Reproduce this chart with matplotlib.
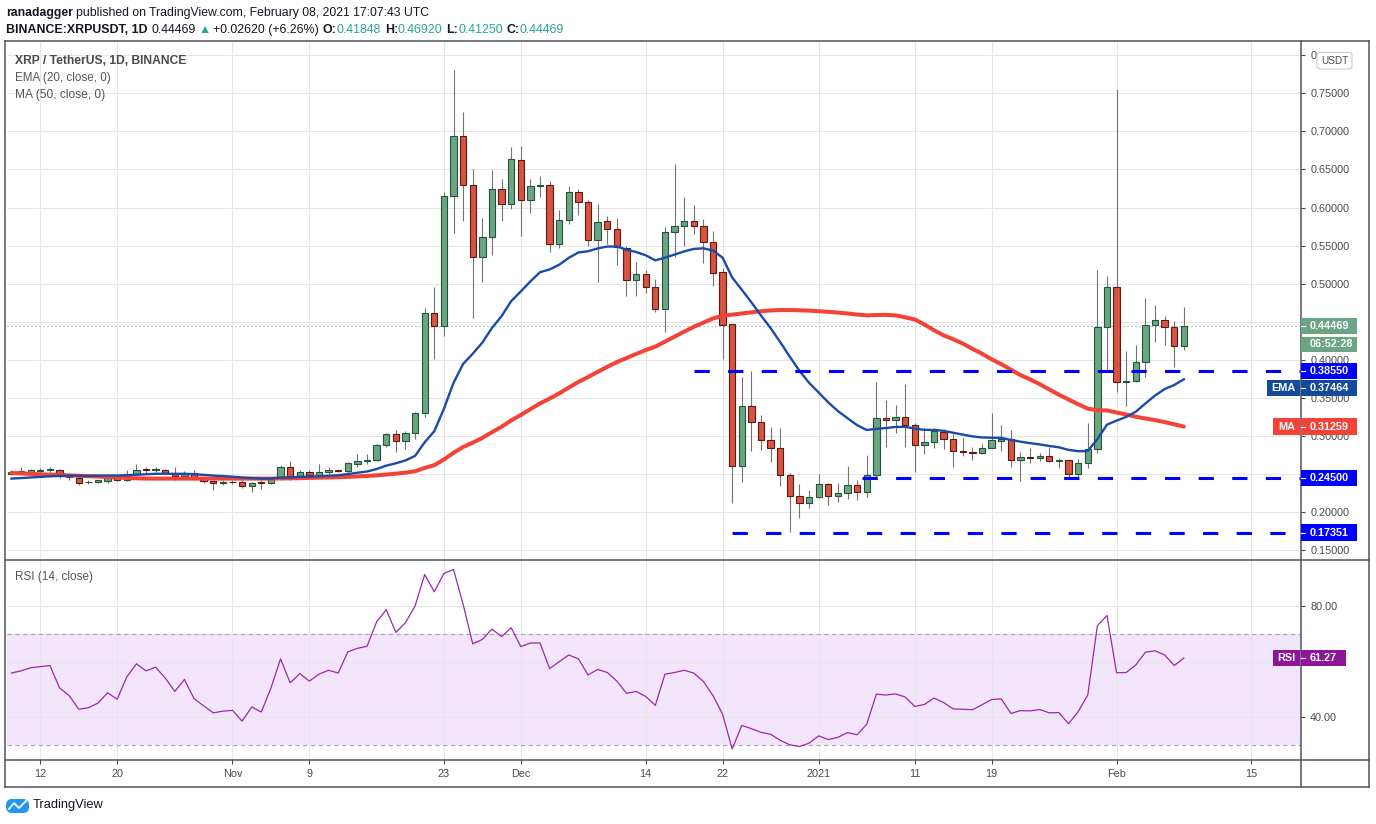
import numpy as np
import pandas as pd
import matplotlib
matplotlib.use("Agg")
import matplotlib.pyplot as plt
from matplotlib.patches import Rectangle, FancyBboxPatch
from matplotlib.lines import Line2D
from matplotlib.transforms import IdentityTransform

# ---------------- data ----------------
start_date = "2020-10-09"

open_ = [
    .2510, .2520, .2530, .2540, .2556, .2560, .2490, .2450, .2395, .2398, .2415, .2460, .2430, .2510, .2565, .2555, .2558, .2520, .2480, .2520, .2450, .2410, .2390,
    .2395, .2393, .2350, .2395, .2380, .2450, .2590, .2480, .2530, .2490, .2530, .2550, .2540, .2640, .2670, .2690, .2880, .3030, .2935, .3037, .3302, .4620, .4440, .6157, .6934, .6300, .5353, .5617, .6249, .6051,
    .6630, .6104, .6280, .6300, .5525, .5840, .6209, .6078, .5577, .5827, .5722, .5472, .5050, .5130, .4958, .4669, .5683, .5762, .5827, .5762, .5547, .5150, .4470, .2605, .3395, .3184, .2947, .2842, .2487, .2210, .2118,
    .2197, .2368, .2210, .2250, .2355, .2263, .2487, .3237, .3210, .3250, .3145, .2882, .2921, .3060, .2960, .2802, .2789, .2776, .2850, .2937, .2960, .2684, .2723, .2719, .2736, .2675, .2684, .2500, .2644, .2828, .4438,
    .4954, .3707, .3720, .3970, .4455, .4525, .4429, .41848,
]
high = [
    .2560, .2600, .2570, .2580, .2600, .2570, .2500, .2460, .2420, .2425, .2500, .2480, .2550, .2630, .2590, .2590, .2575, .2590, .2540, .2560, .2470, .2420, .2420,
    .2420, .2420, .2400, .2420, .2470, .2620, .2670, .2560, .2560, .2640, .2590, .2560, .2660, .2770, .2760, .2900, .3040, .3082, .3068, .3315, .4680, .4960, .6200, .7807, .7254, .6512, .5858, .6490, .6370, .6790,
    .6806, .6370, .6410, .6345, .5964, .6280, .6245, .6104, .6051, .5889, .5867, .5498, .5283, .5182, .5064, .5744, .6578, .6139, .6030, .5854, .5687, .5209, .4470, .3780, .3860, .3280, .3118, .3105, .2513, .2368, .2294,
    .2500, .2390, .2382, .2610, .2425, .2759, .3706, .3478, .3404, .3689, .3170, .3105, .3105, .3090, .3030, .2972, .2863, .2894, .3309, .3146, .3083, .2789, .2841, .2776, .2863, .2710, .2690, .2697, .3169, .5182, .5103,
    .7552, .4123, .4197, .4814, .4722, .4582, .4512, .46920,
]
low = [
    .2490, .2500, .2520, .2520, .2510, .2450, .2430, .2360, .2370, .2385, .2390, .2410, .2410, .2490, .2520, .2530, .2500, .2420, .2460, .2430, .2390, .2300, .2360,
    .2370, .2320, .2270, .2310, .2370, .2430, .2430, .2460, .2470, .2480, .2500, .2530, .2520, .2590, .2630, .2670, .2860, .2795, .2830, .2967, .3250, .4015, .4320, .5665, .5823, .4546, .5020, .5375, .5823, .5985,
    .5626, .5933, .6140, .5415, .5472, .5788, .5906, .5498, .5024, .5525, .5244, .4835, .4835, .4879, .4625, .4361, .5349, .5494, .5656, .5274, .4967, .4010, .2118, .2395, .2803, .2825, .2658, .2342, .1737, .1921, .2053,
    .2190, .2100, .2140, .2180, .2167, .2206, .2470, .2855, .3048, .2864, .2535, .2772, .2851, .2828, .2600, .2745, .2684, .2767, .2841, .2806, .2600, .2413, .2653, .2680, .2667, .2578, .2435, .2469, .2587, .2776, .3847,
    .3585, .3401, .3715, .3782, .4241, .4197, .3913, .41250,
]
close = [
    .2530, .2540, .2550, .2560, .2562, .2480, .2460, .2390, .2405, .2420, .2460, .2430, .2510, .2560, .2555, .2570, .2520, .2480, .2520, .2450, .2410, .2390, .2395,
    .2393, .2350, .2390, .2380, .2450, .2590, .2480, .2530, .2490, .2530, .2550, .2540, .2645, .2680, .2690, .2880, .3030, .2935, .3037, .3302, .4620, .4440, .6157, .6934, .6300, .5353, .5617, .6249, .6051, .6644,
    .6104, .6288, .6300, .5525, .5840, .6209, .6078, .5577, .5814, .5722, .5489, .5050, .5130, .4963, .4669, .5683, .5762, .5827, .5762, .5547, .5140, .4465, .2605, .3395, .3184, .2947, .2842, .2487, .2210, .2118, .2197,
    .2368, .2210, .2250, .2355, .2263, .2487, .3237, .3210, .3250, .3145, .2882, .2921, .3070, .2960, .2802, .2789, .2776, .2850, .2946, .2964, .2684, .2723, .2719, .2736, .2670, .2688, .2500, .2644, .2828, .4438, .4954,
    .3707, .3720, .3970, .4455, .4525, .4429, .41848, .44469,
]
ema20 = [
    .2443, .2450, .2458, .2465, .2473, .2478, .2482, .2481, .2480, .2481, .2483, .2484, .2487, .2494, .2500, .2506, .2507, .2505, .2506, .2501, .2492, .2483, .2476,
    .2468, .2458, .2450, .2443, .2443, .2457, .2459, .2466, .2468, .2474, .2481, .2487, .2503, .2520, .2536, .2569, .2613, .2644, .2682, .2741, .2920, .3065, .3360, .3700, .3948, .4082, .4228, .4420, .4575, .4772,
    .4899, .5031, .5152, .5188, .5250, .5341, .5411, .5427, .5464, .5489, .5489, .5447, .5417, .5374, .5307, .5343, .5383, .5425, .5457, .5466, .5435, .5343, .5082, .4921, .4756, .4584, .4418, .4234, .4041, .3858, .3700,
    .3573, .3443, .3329, .3236, .3144, .3081, .3096, .3107, .3121, .3123, .3100, .3083, .3082, .3070, .3045, .3020, .2997, .2983, .2980, .2978, .2950, .2928, .2908, .2892, .2871, .2854, .2820, .2803, .2805, .2961, .3151,
    .3204, .3253, .3321, .3429, .3533, .3618, .3672, .37464,
]
ma50 = [
    .2517, .2511, .2505, .2500, .2495, .2490, .2485, .2480, .2475, .2470, .2464, .2458, .2452, .2447, .2444, .2443, .2443, .2443, .2443, .2443, .2443, .2443, .2443,
    .2443, .2443, .2443, .2443, .2443, .2445, .2447, .2449, .2452, .2455, .2458, .2462, .2466, .2472, .2478, .2486, .2496, .2508, .2521, .2540, .2583, .2620, .2693, .2782, .2858, .2915, .2977, .3052, .3123, .3206,
    .3278, .3354, .3430, .3493, .3562, .3638, .3712, .3776, .3844, .3910, .3972, .4025, .4079, .4130, .4175, .4240, .4306, .4371, .4435, .4490, .4545, .4580, .4595, .4610, .4625, .4640, .4650, .4655, .4655, .4652, .4648,
    .4640, .4632, .4622, .4610, .4596, .4585, .4590, .4592, .4585, .4560, .4531, .4466, .4390, .4323, .4272, .4215, .4146, .4082, .4008, .3945, .3873, .3801, .3745, .3683, .3612, .3544, .3482, .3419, .3361, .3340, .3338,
    .3310, .3285, .3255, .3232, .3210, .3185, .3155, .31259,
]
rsi14 = [
    55.9, 56.7, 57.8, 58.2, 58.6, 50.6, 47.8, 42.9, 43.4, 45.1, 48.8, 46.5, 54.5, 59.2, 56.7, 58.0, 54.1, 49.3, 53.6, 46.7, 44.1, 41.6, 42.2,
    42.5, 38.6, 43.7, 41.9, 50.5, 61.0, 52.4, 55.7, 53.0, 55.5, 56.9, 55.9, 63.5, 64.8, 65.5, 74.3, 78.7, 70.5, 74.0, 80.0, 91.3, 85.1, 91.7, 93.1, 80.6, 66.4, 68.0, 71.7, 69.0, 72.2,
    65.4, 66.7, 66.7, 57.5, 60.0, 62.4, 61.0, 55.2, 57.2, 56.1, 53.0, 48.6, 49.3, 47.5, 44.3, 55.5, 56.1, 56.9, 55.9, 52.9, 47.8, 41.1, 28.6, 37.1, 35.9, 34.6, 33.9, 31.7, 30.1, 29.5, 30.7,
    33.3, 32.0, 32.8, 34.5, 33.7, 37.5, 48.3, 48.0, 48.4, 47.3, 43.9, 44.6, 46.9, 45.3, 43.0, 42.9, 42.7, 44.5, 46.4, 46.6, 41.4, 42.4, 42.3, 42.8, 41.6, 41.7, 37.7, 42.0, 48.0, 72.9, 76.6,
    56.0, 56.1, 58.8, 63.4, 63.9, 62.4, 58.6, 61.27,
]
level_values = [0.3855, 0.2450, 0.17351]
level_starts = ["2020-12-19", "2021-01-05 12:00", "2020-12-23"]
tick_dates = ["2020-10-12", "2020-10-20", "2020-11-01", "2020-11-09", "2020-11-23", "2020-12-01",
              "2020-12-14", "2020-12-22", "2021-01-01", "2021-01-11", "2021-01-19", "2021-02-01", "2021-02-15"]
tick_labels = ["12", "20", "Nov", "9", "23", "Dec", "14", "22", "2021", "11", "19", "Feb", "15"]
price_ticks = [0.15, 0.20, 0.25, 0.30, 0.35, 0.40, 0.45, 0.50, 0.55, 0.60, 0.65, 0.70, 0.75, 0.80]
rsi_ticks = [40, 60, 80]
countdown = "06:52:28"

# ---------------- layout ----------------
W, H = 1376, 824
fig = plt.figure(figsize=(W / 100, H / 100), dpi=100)
fig.patch.set_facecolor("white")

UI = ["Liberation Sans Narrow", "Liberation Sans", "DejaVu Sans"]
TK = ["Liberation Sans", "DejaVu Sans"]
TXT = "#4A4A4A"
GRID = "#E6E6E6"
FRAME = "#50535E"

def fx(x):
    return x / W

def fy(y):
    return 1 - y / H

PL, PR, PT, PB = 7, 1301, 42, 559
RT, RB = 560, 760

ax = fig.add_axes([fx(PL), fy(PB), fx(PR) - fx(PL), fy(PT) - fy(PB)])
rax = fig.add_axes([fx(PL), fy(RB), fx(PR) - fx(PL), fy(RT) - fy(RB)])

n = len(close)
x = np.arange(n)
t0 = pd.Timestamp(start_date)

def day_index(d):
    return (pd.Timestamp(d) - t0) / pd.Timedelta(days=1)

tick_pos = [day_index(d) for d in tick_dates]
XL = (-0.465, 134.19)

for a in (ax, rax):
    a.set_xlim(*XL)
    for s in a.spines.values():
        s.set_visible(False)
    a.set_facecolor("white")
    a.set_xticks(tick_pos)
    a.grid(True, color=GRID, lw=0.75, zorder=0)
    a.set_axisbelow(True)

ax.set_ylim(0.1388, 0.8173)
rax.set_ylim(24.65, 96.53)

def ydisp(a, v):
    return a.transData.transform((0, v))[1]

BH = 16.5
# vertical positions (display px) of the value boxes, used to hide fully covered tick labels
box_vals_main = [close[-1], level_values[0], ma50[-1]] + level_values[1:]
box_ys_main = [ydisp(ax, v) for v in box_vals_main]
usdt_y = H - 60.8

def price_label(v):
    yv = ydisp(ax, v)
    if abs(yv - usdt_y) < 9:
        return f"{v:.5f}"[0]
    if any(abs(yv - yb) < BH * 0.45 for yb in box_ys_main):
        return ""
    return f"{v:.5f}"

def rsi_label(v):
    yv = ydisp(rax, v)
    if abs(yv - ydisp(rax, rsi14[-1])) < BH * 0.45:
        return ""
    return f"{v:.2f}"

ax.tick_params(axis="x", length=0, labelbottom=False)
ax.yaxis.tick_right()
ax.set_yticks(price_ticks)
ax.set_yticklabels([price_label(v) for v in price_ticks])
ax.tick_params(axis="y", direction="out", length=3, width=0.8, color=TXT, pad=3.6,
               labelsize=7.8, labelcolor=TXT)

rax.yaxis.tick_right()
rax.set_yticks(rsi_ticks)
rax.set_yticklabels([rsi_label(v) for v in rsi_ticks])
rax.tick_params(axis="y", direction="out", length=3, width=0.8, color=TXT, pad=3.6,
                labelsize=7.8, labelcolor=TXT)
rax.set_xticklabels(tick_labels)
rax.tick_params(axis="x", direction="out", length=3, width=0.8, color=TXT, pad=3.8,
                labelsize=7.8, labelcolor=TXT)
for lab in ax.get_yticklabels() + rax.get_yticklabels() + rax.get_xticklabels():
    lab.set_family(TK)

# ---------------- candles ----------------
o = np.array(open_); c = np.array(close); hi = np.array(high); lo = np.array(low)
up = c >= o
fills = np.where(up, "#6BA583", "#D75442")
edges = np.where(up, "#225437", "#5B1A13")
bottoms = np.minimum(o, c)
heights = np.maximum(np.abs(c - o), 0.0009)
ax.vlines(x, lo, hi, colors="#737375", linewidth=0.8, zorder=2.5)
ax.bar(x, heights, bottom=bottoms, width=0.66, color=fills, edgecolor=edges,
       linewidth=0.8, zorder=3)

ax.plot(x, ma50, color="#F44336", lw=2.9, zorder=4, solid_capstyle="round", solid_joinstyle="round")
ax.plot(x, ema20, color="#1A4BA8", lw=1.7, zorder=4.2, solid_joinstyle="round")

ax.axhline(close[-1], color="#6BA583", lw=0.8, ls=(0, (1, 2.6)), zorder=1.5)

for v, s in zip(level_values, level_starts):
    ax.plot([day_index(s), XL[1]], [v, v], color="#0000FF", lw=2.2,
            ls=(0, (5, 6)), zorder=6, solid_capstyle="butt", dash_capstyle="butt")

# ---------------- RSI pane ----------------
rax.axhspan(30, 70, color="#F3E6FC", zorder=0.1, lw=0)
for lvl in (70, 30):
    rax.axhline(lvl, color="#ABA3B3", lw=0.8, ls=(0, (4, 3)), zorder=1)
rax.plot(x, rsi14, color="#9C27B0", lw=0.9, zorder=3)

# ---------------- frame lines ----------------
def hline(y, x0=5, x1=1369, color=FRAME, lw=1.1):
    fig.add_artist(Line2D([x0, x1], [H - y, H - y], transform=IdentityTransform(),
                          color=color, lw=lw, zorder=4))

def vline(xp, y0=41, y1=787, color=FRAME, lw=1.1):
    fig.add_artist(Line2D([xp, xp], [H - y0, H - y1], transform=IdentityTransform(),
                          color=color, lw=lw, zorder=4))

hline(41); hline(787); hline(559.5); hline(760)
vline(5); vline(1369); vline(1301)

# ---------------- texts ----------------
renderer = fig.canvas.get_renderer()

def tw(s, fs, weight="normal", family=UI):
    t = fig.text(0, 0, s, fontsize=fs, weight=weight, family=family)
    w = t.get_window_extent(renderer).width
    t.remove()
    return w

def pieces_width(pieces, fs):
    total = 0
    for s, wgt, col, gap in pieces:
        total += gap * fs * 1.389 + tw(s, fs, wgt)
    return total

def draw_pieces(x0, y_img, pieces, target, fs0=10, zorder=7):
    fs = fs0 * target / pieces_width(pieces, fs0)
    xp = x0
    for s, wgt, col, gap in pieces:
        xp += gap * fs * 1.389
        fig.text(xp, H - y_img, s, transform=IdentityTransform(), fontsize=fs, weight=wgt,
                 family=UI, color=col, va="center", ha="left", zorder=zorder)
        xp += tw(s, fs, wgt)
    return fs

DARK = "#131722"
TEAL = "#26A69A"
draw_pieces(6, 13, [("ranadagger", "bold", DARK, 0),
                    ("published on TradingView.com, February 08, 2021 17:07:43 UTC", "normal", DARK, 0.25)],
            430 - 6)
draw_pieces(6, 30, [("BINANCE:XRPUSDT, 1D", "bold", DARK, 0),
                    (f"{close[-1]:.5f}", "normal", DARK, 0.3),
                    ("\u25B2", "normal", TEAL, 0.2),
                    ("+0.02620 (+6.26%)", "normal", DARK, 0.25),
                    ("O:", "bold", DARK, 0.3), (f"{open_[-1]:.5f}", "normal", TEAL, 0),
                    ("H:", "bold", DARK, 0.3), (f"{high[-1]:.5f}", "normal", TEAL, 0),
                    ("L:", "bold", DARK, 0.3), (f"{low[-1]:.5f}", "normal", TEAL, 0),
                    ("C:", "bold", DARK, 0.3), (f"{close[-1]:.5f}", "normal", TEAL, 0)],
            565 - 6)

draw_pieces(15, 61, [("XRP / TetherUS, 1D, BINANCE", "bold", "#4A4A4A", 0)], 186 - 15)
draw_pieces(15, 78, [("EMA (20, close, 0)", "normal", "#555555", 0)], 110 - 15)
draw_pieces(15, 95, [("MA (50, close, 0)", "normal", "#555555", 0)], 105 - 15)
draw_pieces(15, 577, [("RSI (14, close)", "normal", "#555555", 0)], 93 - 15)

# ---------------- right-hand value labels ----------------
def box(x0, x1, yc, h, fc, text, fs=7.8, tx=None, ha="left", tick=True):
    fig.add_artist(Rectangle((x0, yc - h / 2), x1 - x0, h, transform=IdentityTransform(),
                             facecolor=fc, edgecolor="none", zorder=5))
    if tick:
        fig.add_artist(Line2D([1301, 1305], [yc, yc], transform=IdentityTransform(),
                              color="white", lw=0.8, zorder=6))
    fig.text(tx if tx is not None else x0 + 9, yc, text, transform=IdentityTransform(),
             color="white", fontsize=fs, weight="bold", family=TK, va="center", ha=ha, zorder=6)

yc_price = ydisp(ax, close[-1])
box(1301, 1357, yc_price, 15.5, "#6BA583", f"{close[-1]:.5f}")
box(1301, 1357, yc_price - 18.5, 15.5, "#6BA583", countdown, tick=False)

y_lvl0 = ydisp(ax, level_values[0])
box(1301, 1357, y_lvl0, BH, "#0000FF", f"{level_values[0]:.5f}")
y_ema = min(ydisp(ax, ema20[-1]), y_lvl0 - BH - 0.5)
box(1301, 1357, y_ema, BH, "#134A9C", f"{ema20[-1]:.5f}")
box(1267, 1300, y_ema, BH, "#134A9C", "EMA", tx=1283.5, ha="center", tick=False)
y_ma = ydisp(ax, ma50[-1])
box(1301, 1357, y_ma, BH, "#F44336", f"{ma50[-1]:.5f}")
box(1273, 1300, y_ma, BH, "#F44336", "MA", tx=1286.5, ha="center", tick=False)
for v in level_values[1:]:
    box(1301, 1357, ydisp(ax, v), BH, "#0000FF", f"{v:.5f}")

y_rsi = ydisp(rax, rsi14[-1])
box(1301, 1346, y_rsi, BH, "#8E1599", f"{rsi14[-1]:.2f}")
box(1273, 1300, y_rsi, BH, "#8E1599", "RSI", tx=1286.5, ha="center", tick=False)

# USDT currency box
fig.add_artist(FancyBboxPatch((1317, H - 69), 35, 16.5, boxstyle="round,pad=0,rounding_size=3",
                              transform=IdentityTransform(), facecolor="white",
                              edgecolor="#C9CCD4", lw=0.8, zorder=7))
fig.text(1334.5, usdt_y, "USDT", transform=IdentityTransform(), fontsize=7.2, family=TK,
         color=TXT, ha="center", va="center", zorder=8)

# TradingView logo
fig.add_artist(FancyBboxPatch((6, H - 813), 23, 14, boxstyle="round,pad=0,rounding_size=6",
                              transform=IdentityTransform(), facecolor="#2196F3",
                              edgecolor="none", zorder=7))
fig.add_artist(Line2D([9, 14, 19, 26], [H - 809, H - 803, H - 808, H - 801],
                      transform=IdentityTransform(), color="white", lw=1.3, zorder=8))
draw_pieces(33, 805, [("TradingView", "normal", DARK, 0)], 104 - 33)

fig.savefig("out.png", dpi=100, facecolor="white")
